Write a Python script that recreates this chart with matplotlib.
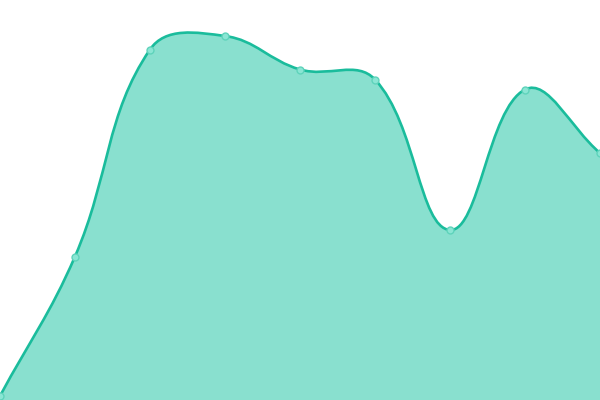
import numpy as np
import matplotlib
matplotlib.use("Agg")
import matplotlib.pyplot as plt
from matplotlib.path import Path
from matplotlib.patches import PathPatch

# data
labels = ['p0', 'p1', 'p2', 'p3', 'p4', 'p5', 'p6', 'p7', 'p8']
values = [4, 143.5, 350.5, 364, 330.5, 320.5, 170, 310.5, 247]

line_color = '#1abc9c'
fill_color = '#89e0cf'
tension = 0.4


def spline_path(xs, ys, fig_w, fig_h, xlim, ylim, close_to=None):
    # work in pixel space so the curve shape matches the reference
    px = (np.asarray(xs, float) - xlim[0]) / (xlim[1] - xlim[0]) * fig_w
    py = (np.asarray(ys, float) - ylim[0]) / (ylim[1] - ylim[0]) * fig_h
    pts = np.column_stack([px, py])
    n = len(pts)
    ctrl_prev = pts.copy()
    ctrl_next = pts.copy()
    for i in range(n):
        p0 = pts[i - 1] if i > 0 else pts[i]
        p1 = pts[i]
        p2 = pts[i + 1] if i < n - 1 else pts[i]
        d01 = np.hypot(*(p1 - p0))
        d12 = np.hypot(*(p2 - p1))
        tot = d01 + d12
        s01 = d01 / tot if tot else 0
        s12 = d12 / tot if tot else 0
        ctrl_prev[i] = p1 - tension * s01 * (p2 - p0)
        ctrl_next[i] = p1 + tension * s12 * (p2 - p0)
    ctrl_prev[:, 1] = np.clip(ctrl_prev[:, 1], 0, fig_h)
    ctrl_next[:, 1] = np.clip(ctrl_next[:, 1], 0, fig_h)

    verts = [pts[0]]
    codes = [Path.MOVETO]
    for i in range(n - 1):
        verts += [ctrl_next[i], ctrl_prev[i + 1], pts[i + 1]]
        codes += [Path.CURVE4] * 3
    verts = np.array(verts)
    # back to data coords
    verts[:, 0] = verts[:, 0] / fig_w * (xlim[1] - xlim[0]) + xlim[0]
    verts[:, 1] = verts[:, 1] / fig_h * (ylim[1] - ylim[0]) + ylim[0]
    verts = list(verts)
    if close_to is not None:
        verts += [(xs[-1], close_to), (xs[0], close_to), verts[0]]
        codes += [Path.LINETO, Path.LINETO, Path.CLOSEPOLY]
    return Path(verts, codes)


fig = plt.figure(figsize=(6, 4), dpi=100)
ax = fig.add_axes([0, 0, 1, 1])
x = np.arange(len(values))
xlim = (0, len(values) - 1)
ylim = (0, 400)
ax.set_xlim(*xlim)
ax.set_ylim(*ylim)
ax.axis('off')

area = spline_path(x, values, 600, 400, xlim, ylim, close_to=ylim[0])
ax.add_patch(PathPatch(area, facecolor=fill_color, edgecolor='none', zorder=1))
line = spline_path(x, values, 600, 400, xlim, ylim)
ax.add_patch(PathPatch(line, facecolor='none', edgecolor=line_color, linewidth=1.9,
                       capstyle='round', joinstyle='round', zorder=2))
ax.plot(x, values, 'o', markersize=5, markerfacecolor='#8ae6d4',
        markeredgecolor='#5fd3bb', markeredgewidth=1, zorder=3, clip_on=False)

fig.savefig('out.png', dpi=100)
